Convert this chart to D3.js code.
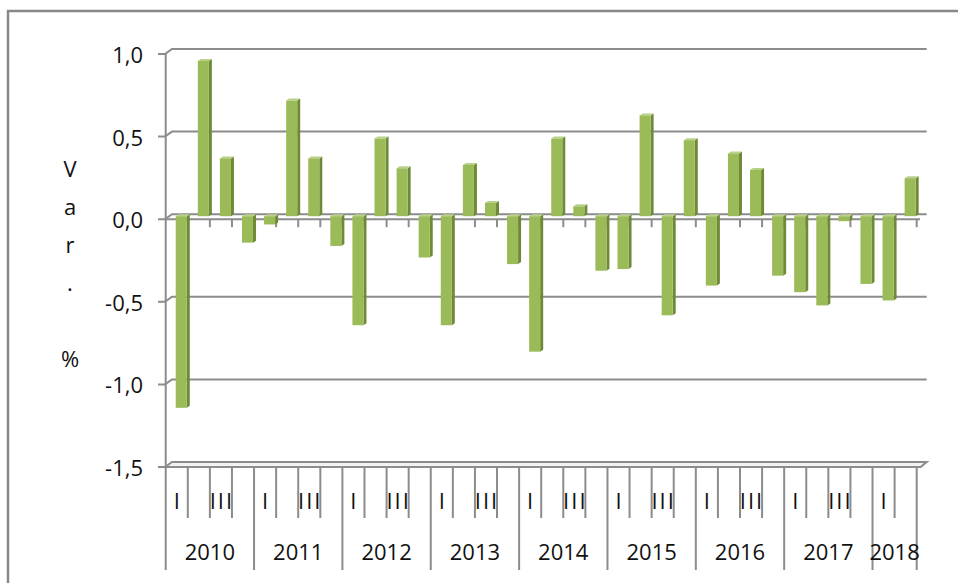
<!DOCTYPE html>
<html>
<head>
<meta charset="utf-8">
<script src="https://cdn.jsdelivr.net/npm/d3@7"></script>
<style>
  body { margin: 0; background: #fff; }
  text { font-family: "Open Sans", sans-serif; fill: #111; }
</style>
</head>
<body>
<svg id="chart" width="958" height="583"></svg>
<script>
// Data
const years = ['2010', '2011', '2012', '2013', '2014', '2015', '2016', '2017', '2018'];
const quartersPerYear = [4, 4, 4, 4, 4, 4, 4, 4, 2];
const quarterNames = ['I', 'II', 'III', 'IV'];
const yTicks = [-1.5, -1.0, -0.5, 0.0, 0.5, 1.0];
const values = [
    -1.16, 0.94, 0.35, -0.16,   // 2010
    -0.05, 0.70, 0.35, -0.18,   // 2011
    -0.66, 0.47, 0.29, -0.25,   // 2012
    -0.66, 0.31, 0.08, -0.29,   // 2013
    -0.82, 0.47, 0.06, -0.33,   // 2014
    -0.32, 0.61, -0.60, 0.46,   // 2015
    -0.42, 0.38, 0.28, -0.36,   // 2016
    -0.46, -0.54, -0.03, -0.41, // 2017
    -0.51, 0.23                 // 2018
];
const axisTitle = 'Var. %';

// Build category list (year + quarter)
const categories = [];
years.forEach((yr, i) => {
    for (let q = 0; q < quartersPerYear[i]; q++) {
        categories.push({ key: yr + '-' + q, year: yr, q: q, first: q === 0 });
    }
});
const data = categories.map((c, i) => ({ ...c, value: values[i] }));

const svg = d3.select('#chart');
const gridColor = '#8c8c8c';

// Fake 3D: offset between front plane and back wall
const DX = 7, DY = -5;

const x = d3.scaleBand()
    .domain(categories.map(d => d.key))
    .range([165.7, 916.7]);
const bw = x.bandwidth();

const y = d3.scaleLinear()
    .domain([-1.5, 1.0])
    .range([467, 54]);

const fmt = v => d3.format('.1f')(v).replace('.', ',').replace('−', '-');

// Outer chart border
svg.append('path')
    .attr('d', 'M8,583 L8,11 L958,11')
    .attr('fill', 'none')
    .attr('stroke', '#888')
    .attr('stroke-width', 2.5);

// Back wall gridlines, with diagonal to the front axis
const grid = svg.append('g');
yTicks.filter(v => v !== -1.5).forEach(v => {
    grid.append('path')
        .attr('d', `M158,${y(v)} L165,${y(v)} L${165 + DX},${y(v) + DY} L${916.7 + 10},${y(v) + DY}`)
        .attr('fill', 'none')
        .attr('stroke', gridColor)
        .attr('stroke-width', 2);
});

// Floor slab at -1.5
grid.append('path')
    .attr('d', `M158,${y(-1.5)} L165,${y(-1.5)} L${165 + DX},${y(-1.5) + DY} L${916.7 + 10},${y(-1.5) + DY} L${916.7 + 4},${y(-1.5)} L165,${y(-1.5)}`)
    .attr('fill', '#f2f2f2')
    .attr('stroke', gridColor)
    .attr('stroke-width', 2);

// Front value axis line
svg.append('line')
    .attr('x1', 165.7).attr('x2', 165.7)
    .attr('y1', y(1.0)).attr('y2', y(-1.5))
    .attr('stroke', gridColor)
    .attr('stroke-width', 2);

// Category axis at zero (front edge + tick marks)
svg.append('line')
    .attr('x1', 165.7).attr('x2', 920)
    .attr('y1', y(0)).attr('y2', y(0))
    .attr('stroke', gridColor)
    .attr('stroke-width', 2);
d3.range(1, categories.length + 1).forEach(i => {
    const xb = 165.7 + i * bw;
    svg.append('line')
        .attr('x1', xb).attr('x2', xb)
        .attr('y1', y(0)).attr('y2', y(0) + 8)
        .attr('stroke', gridColor)
        .attr('stroke-width', 2);
});

// Value tick labels
svg.append('g').selectAll('text')
    .data(yTicks)
    .join('text')
    .attr('x', 143)
    .attr('y', d => y(d) + 9)
    .attr('text-anchor', 'end')
    .attr('font-size', 22)
    .text(d => fmt(d));

// Vertical stacked axis title
const title = svg.append('text')
    .attr('x', 70)
    .attr('y', 177)
    .attr('text-anchor', 'middle')
    .attr('font-size', 22);
axisTitle.split('').forEach((ch, i) => {
    title.append('tspan')
        .attr('x', 70)
        .attr('dy', i === 0 ? 0 : 38)
        .text(ch === ' ' ? '\u00a0' : ch);
});

// Bars (front face, right side, top)
const frontCol = '#9bbb59', sideCol = '#6f8a36', topCol = '#b9d08a';
const SX = 3, SY = -2;
const bars = svg.append('g').selectAll('g')
    .data(data)
    .join('g');
bars.each(function(d) {
    const g = d3.select(this);
    const x0 = x(d.key) + bw * 0.25 + 4.5;
    const w = bw * 0.5;
    const y0 = y(0) - 3, y1 = y(d.value) - 3;
    const t = Math.min(y0, y1), b = Math.max(y0, y1);
    g.append('path')
        .attr('d', `M${x0 + w},${t} L${x0 + w + SX},${t + SY} L${x0 + w + SX},${b + SY} L${x0 + w},${b} Z`)
        .attr('fill', sideCol);
    g.append('path')
        .attr('d', `M${x0},${t} L${x0 + SX},${t + SY} L${x0 + w + SX},${t + SY} L${x0 + w},${t} Z`)
        .attr('fill', topCol);
    g.append('rect')
        .attr('x', x0).attr('y', t)
        .attr('width', w).attr('height', Math.max(b - t, 0.5))
        .attr('fill', frontCol);
});

// Multi-level category labels below the floor
const labels = svg.append('g');
d3.range(0, categories.length + 1).forEach(i => {
    const xb = 165.7 + i * bw;
    const isYear = i === categories.length || categories[i].first;
    labels.append('line')
        .attr('x1', xb).attr('x2', xb)
        .attr('y1', y(-1.5)).attr('y2', isYear ? 570 : 518)
        .attr('stroke', gridColor)
        .attr('stroke-width', 2);
});
labels.selectAll('text.q')
    .data(data.filter(d => d.q % 2 === 0))
    .join('text')
    .attr('class', 'q')
    .attr('x', d => x(d.key) + bw / 2 + (d.q === 2 ? 1 : 0))
    .attr('y', 509)
    .attr('text-anchor', 'middle')
    .attr('font-size', 22)
    .attr('letter-spacing', d => d.q === 2 ? 2 : 0)
    .text(d => quarterNames[d.q]);
labels.selectAll('text.yr')
    .data(years)
    .join('text')
    .attr('class', 'yr')
    .attr('x', d => {
        const ks = categories.filter(c => c.year === d);
        return (x(ks[0].key) + x(ks[ks.length - 1].key) + bw) / 2;
    })
    .attr('y', 560)
    .attr('text-anchor', 'middle')
    .attr('font-size', 22)
    .text(d => d);
</script>
</body>
</html>
